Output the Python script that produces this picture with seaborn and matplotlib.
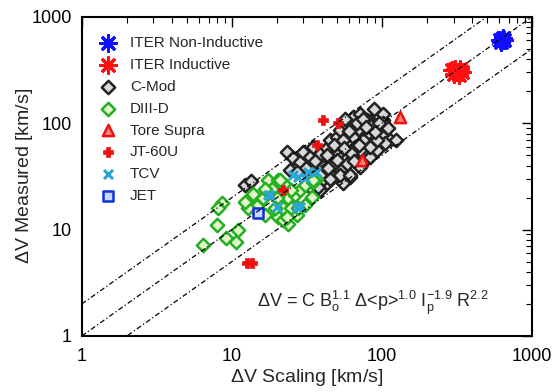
import numpy as np
import pandas as pd
import matplotlib
matplotlib.use("Agg")
import matplotlib.pyplot as plt
import seaborn as sns

# ---------------- data ----------------
cmod_x = [23.2, 25.6, 24.4, 28.4, 29.9, 33.1, 34.8, 38.6, 42.8, 45, 49.9, 52.5, 58.2, 64.4, 71.3,
          79.1, 92.2, 102, 97, 87.5, 79.1, 71.3, 64.4, 58.2, 52.5, 47.4, 42.8, 38.6, 40.6, 45,
          52.5, 58.2, 64.4, 71.3, 79.1, 87.5, 102, 113, 125, 61.2, 55.2, 71.3, 83.2, 92.2, 38.6,
          12.3, 13.5, 34.8, 37.4, 104.7, 101, 101, 34.8, 40.6, 47.4, 52.5, 45, 61.2, 38.6, 49.9,
          66, 75, 85, 60, 68, 55, 48, 43, 31, 27, 62, 83, 92, 110, 95, 75, 88, 57,
          78, 90, 70, 65, 56, 50, 44, 36]
cmod_y = [53.8, 46.6, 36.2, 43.3, 53.8, 48.3, 59.9, 51.9, 57.9, 69.2, 74.3, 85.9, 95.8, 114.6, 123.3,
          106.7, 123.3, 106.7, 85.9, 74.3, 64.5, 55.7, 48.3, 41.8, 36.2, 31.3, 27.2, 23.5, 36.2, 45,
          55.7, 64.5, 74.3, 85.9, 80, 92.3, 74.3, 69.2, 69.2, 31.3, 27.2, 38.9, 48.3, 55.7, 28,
          26, 28.5, 23.5, 25.1, 64.5, 123, 100, 41.8, 38.9, 40.2, 32.5, 30.2, 32.5, 32.5, 49.9,
          60, 70, 95, 85, 100, 70, 62, 50, 38, 35, 53, 60, 70, 90, 100, 110, 135, 110,
          92, 82, 62, 44, 58, 45, 38, 44]

d3d_x = [8.6, 8.1, 7.9, 9.2, 11, 10.7, 6.4, 13.9, 14.6, 12.9, 16.1, 17.3, 20.3, 18.4, 16.5, 20.3,
         21.9, 23.7, 26.3, 28.4, 30.6, 34.8, 36.6, 24.9, 27.1, 23.7, 21.9, 30.6, 19.9, 16.6, 22.5,
         24.9, 34, 19.3, 20.9, 34.6, 27.5, 23.3, 12.2, 13.8]
d3d_y = [17.7, 15.9, 11, 8.4, 10, 7.7, 7.2, 19.6, 16.5, 15.8, 19.6, 29, 29, 24.3, 13.7, 13.2,
         15.8, 19.6, 21, 23.5, 26.1, 28, 30.2, 15.8, 13.7, 11.4, 12.3, 17, 19.6, 24.3, 26.1,
         23.5, 20.3, 15.8, 29, 29, 15.9, 13.1, 18.2, 21.8]

tore_x = [132, 73.5]
tore_y = [114, 45]

jt60_x = [40.5, 51, 37.2, 21.9, 12.6, 13.6]
jt60_y = [107, 100, 63, 23.5, 4.85, 4.85]

tcv_x = [32, 27.7, 17.9, 19.9, 28.4, 25.5, 30.6, 36.6, 17.3, 27.1]
tcv_y = [34.6, 31, 21, 16.3, 16.3, 32.5, 30.5, 34.9, 21, 16.4]

jet_x = [15]
jet_y = [14.2]

iter_ni_x = [610, 640, 625, 650]
iter_ni_y = [600, 630, 580, 610]

iter_ind_x = [300, 330, 315, 325, 305, 340, 295]
iter_ind_y = [290, 320, 305, 285, 325, 300, 315]

ref_x = [1, 1000]
ref_factors = [2, 1, 0.5]

# ---------------- style ----------------
sns.set_theme(style="white")
plt.rcParams['font.family'] = ['Liberation Sans', 'DejaVu Sans']
plt.rcParams['mathtext.fontset'] = 'custom'
plt.rcParams['mathtext.rm'] = 'Liberation Sans'
plt.rcParams['mathtext.it'] = 'Liberation Sans:italic'
plt.rcParams['mathtext.bf'] = 'Liberation Sans:bold'
plt.rcParams['mathtext.default'] = 'regular'

fig = plt.figure(figsize=(5.53, 3.92), dpi=100)
ax = fig.add_axes([0.148, 0.143, 0.814, 0.814])

for f in ref_factors:
    sns.lineplot(x=ref_x, y=[v * f for v in ref_x], ax=ax, color='black', lw=0.9,
                 linestyle=(0, (4, 2, 1, 2)), legend=False)

def sc(x, y, label, **kw):
    df = pd.DataFrame({'x': x, 'y': y})
    sns.scatterplot(data=df, x='x', y='y', ax=ax, label=label, legend=False, **kw)

sc(iter_ni_x, iter_ni_y, 'ITER Non-Inductive', marker=(8, 2, 0), s=130,
   color='#1010ff', linewidth=2.2, edgecolor='#1010ff')
sc(iter_ind_x, iter_ind_y, 'ITER Inductive', marker=(8, 2, 0), s=130,
   color='#ff1010', linewidth=2.2, edgecolor='#ff1010')
sc(cmod_x, cmod_y, 'C-Mod', marker='D', s=46, facecolor='#d8d8d8',
   edgecolor='#222222', linewidth=1.8)
sc(d3d_x, d3d_y, 'DIII-D', marker='D', s=46, facecolor='#e4f5c8',
   edgecolor='#22b022', linewidth=1.8)
sc(tore_x, tore_y, 'Tore Supra', marker='^', s=65, facecolor='#ff8080',
   edgecolor='#ee1111', linewidth=1.8)
sc(jt60_x, jt60_y, 'JT-60U', marker='P', s=42, color='#ee1111',
   edgecolor='#ee1111', linewidth=0.5)
sc(tcv_x, tcv_y, 'TCV', marker='x', s=42, color='#2aa6d6', linewidth=2.2)
sc(jet_x, jet_y, 'JET', marker='s', s=50, facecolor='#c8d8ff',
   edgecolor='#1030e0', linewidth=1.8)

ax.set_xscale('log')
ax.set_yscale('log')
ax.set_xlim(1, 1000)
ax.set_ylim(1, 1000)
ax.set_xticks([1, 10, 100, 1000])
ax.set_xticklabels(['1', '10', '100', '1000'])
ax.set_yticks([1, 10, 100, 1000])
ax.set_yticklabels(['1', '10', '100', '1000'])

ax.tick_params(which='both', direction='in', top=True, right=True, colors='black',
               labelsize=13)
ax.tick_params(which='major', length=7, width=1.0, pad=7)
ax.tick_params(axis='x', which='major', pad=9)
ax.tick_params(which='minor', length=4, width=0.8)
for sp in ax.spines.values():
    sp.set_color('black')
    sp.set_linewidth(1.5)

ax.set_xlabel(r'$\Delta$V Scaling [km/s]', fontsize=14, labelpad=1)
ax.set_ylabel(r'$\Delta$V Measured [km/s]', fontsize=14)
ax.yaxis.set_label_coords(-0.104, 0.5)

ax.legend(loc='upper left', frameon=False, fontsize=11, labelspacing=0.52,
          handletextpad=0.8, borderaxespad=0.0, handlelength=1.2,
          bbox_to_anchor=(0.025, 0.96))

ax.text(0.647, 0.105, r'$\Delta$V = C B$_o^{1.1}$ $\Delta$<p>$^{1.0}$ I$_p^{-1.9}$ R$^{2.2}$',
        transform=ax.transAxes, ha='center', va='center', fontsize=13)

fig.savefig('out.png', dpi=100)
